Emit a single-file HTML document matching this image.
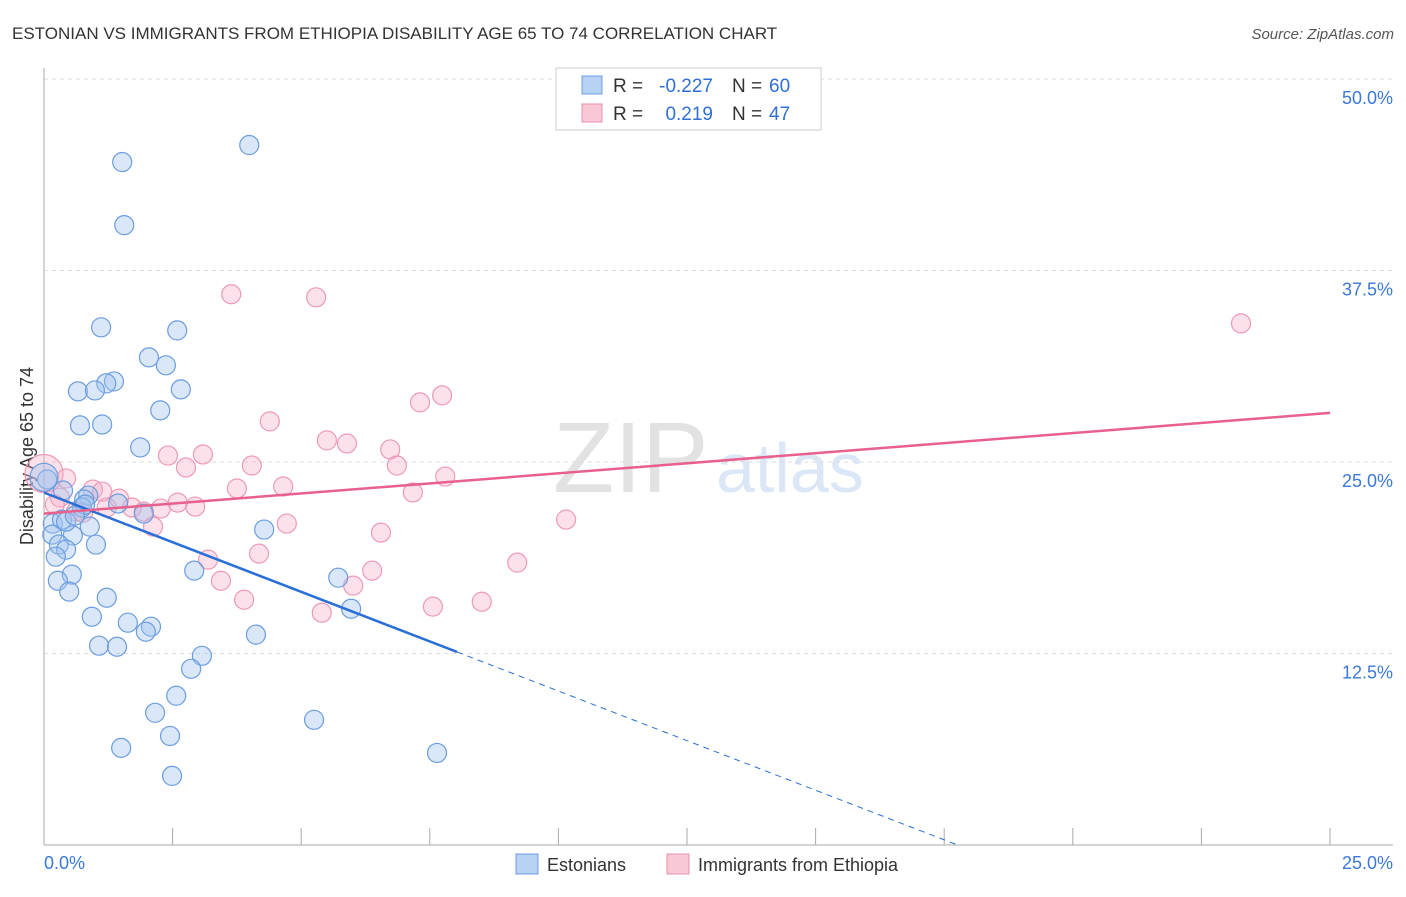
<!DOCTYPE html>
<html><head><meta charset="utf-8"><style>
body{margin:0;background:#fff;font-family:"Liberation Sans",sans-serif}
svg text{font-family:"Liberation Sans",sans-serif}
</style></head><body>
<svg id="c" width="1406" height="892">
<text x="12" y="39" font-size="17" fill="#333">ESTONIAN VS IMMIGRANTS FROM ETHIOPIA DISABILITY AGE 65 TO 74 CORRELATION CHART</text>
<text x="1394" y="39" font-size="15" fill="#555" text-anchor="end" font-style="italic">Source: ZipAtlas.com</text>
<text x="33" y="456" font-size="18" fill="#333" text-anchor="middle" transform="rotate(-90 33 456)">Disability Age 65 to 74</text>
<text x="553" y="492" font-size="100" fill="#e2e2e2" font-family="Liberation Serif">ZIP</text>
<text x="716" y="492" font-size="70" fill="#dbe6f6">atlas</text>
<g id="grid"></g><g id="pts"></g><g id="lines"></g>
<g>
<rect x="556" y="68" width="265" height="62" fill="#fff" stroke="#ccc"/>
<rect x="582" y="76" width="20" height="18" fill="#b8d2f4" stroke="#6a9be0"/>
<rect x="582" y="104" width="20" height="18" fill="#f9c8d6" stroke="#ea8fab"/>
<text x="613" y="92" font-size="19" fill="#333">R =</text>
<text x="713" y="92" font-size="19" fill="#2f6fd6" text-anchor="end">-0.227</text>
<text x="732" y="92" font-size="19" fill="#333">N =</text>
<text x="769" y="92" font-size="19" fill="#2f6fd6">60</text>
<text x="613" y="120" font-size="19" fill="#333">R =</text>
<text x="713" y="120" font-size="19" fill="#2f6fd6" text-anchor="end">0.219</text>
<text x="732" y="120" font-size="19" fill="#333">N =</text>
<text x="769" y="120" font-size="19" fill="#2f6fd6">47</text>
</g>
<g>
<rect x="516" y="854" width="22" height="20" fill="#b8d2f4" stroke="#6a9be0"/>
<text x="547" y="871" font-size="18" fill="#333">Estonians</text>
<rect x="667" y="854" width="22" height="20" fill="#f9c8d6" stroke="#ea8fab"/>
<text x="698" y="871" font-size="18" fill="#333">Immigrants from Ethiopia</text>
</g>
</svg>
<script>
const yTicks=[12.5,25,37.5,50];
const yTickLabels=["12.5%","25.0%","37.5%","50.0%"];
const xTicks=[0,2.5,5,7.5,10,12.5,15,17.5,20,22.5,25];
const blueX=[1.52,3.99,1.56,1.11,2.59,2.04,2.37,1.36,1.21,0.66,0.99,2.66,2.26,0.70,1.13,1.87,0.06,0.37,0.86,0.78,0.74,1.94,1.44,0.17,0.35,0.89,0.16,0.56,1.01,0.29,0.43,4.28,0.23,0.54,0.27,2.92,5.72,0.49,1.22,0.93,5.97,1.63,2.08,1.98,4.12,1.07,1.42,3.07,2.86,2.57,2.16,5.25,2.45,1.50,7.64,2.49,0.43,0.80,0.0,0.6];
const blueY=[44.58,45.69,40.46,33.79,33.59,31.83,31.31,30.26,30.13,29.61,29.67,29.74,28.37,27.39,27.45,25.95,23.86,23.14,22.81,22.55,22.03,21.63,22.29,20.98,21.24,20.78,20.26,20.20,19.61,19.61,19.28,20.59,18.82,17.65,17.25,17.91,17.45,16.54,16.14,14.90,15.42,14.51,14.25,13.92,13.73,13.01,12.94,12.35,11.50,9.74,8.63,8.17,7.12,6.34,6.01,4.51,21.11,22.22,24.0,21.5];
const pinkX=[0,0.43,0.31,0.95,1.13,0.62,0.76,1.22,1.46,1.71,1.94,2.12,2.27,2.41,2.60,2.76,2.94,3.09,3.19,3.44,3.64,3.75,3.89,4.04,4.18,4.65,4.72,4.39,5.29,5.40,5.50,5.89,6.01,6.38,6.55,6.73,6.86,7.17,7.31,7.56,7.74,7.80,8.51,9.20,10.15,23.27,0.21];
const pinkY=[24.25,23.92,22.68,23.20,23.07,21.76,21.70,22.03,22.61,22.03,21.76,20.78,21.96,25.42,22.35,24.64,22.09,25.49,18.63,17.25,35.95,23.27,16.01,24.77,19.02,23.40,20.98,27.65,35.75,15.16,26.41,26.21,16.93,17.91,20.39,25.82,24.77,23.01,28.89,15.56,29.35,24.05,15.88,18.43,21.24,34.05,22.22];
const blueTrend=[23.0,-1.295]; const blueSolidEnd=8.03;
const pinkTrend=[21.63,0.263];
const X=v=>44+v*51.44, Y=v=>845-v*15.32;
const NS="http://www.w3.org/2000/svg";
function mk(t,a,p){const e=document.createElementNS(NS,t);for(const k in a)e.setAttribute(k,a[k]);p.appendChild(e);return e;}
const g=document.getElementById('grid');
yTicks.forEach((t,i)=>{const l=mk('line',{x1:44,x2:1393,y1:Y(t),y2:Y(t),stroke:'#ddd','stroke-dasharray':'4,4'},g);


const tx=mk('text',{x:1393,y:Y(t)+25,'font-size':18,fill:'#3b78d8','text-anchor':'end'},g);tx.textContent=yTickLabels[i];

});
const ax=mk('line',{x1:44,x2:44,y1:68,y2:845,stroke:'#aaa'},g);


const bx=mk('line',{x1:44,x2:1393,y1:845,y2:845,stroke:'#aaa'},g);


xTicks.forEach(t=>{const l=mk('line',{x1:X(t),x2:X(t),y1:828,y2:845,stroke:'#aaa'},g);

});
const t0=mk('text',{x:44,y:869,'font-size':18,fill:'#3b78d8'},g);t0.textContent='0.0%';


const t1=mk('text',{x:1393,y:869,'font-size':18,fill:'#3b78d8','text-anchor':'end'},g);t1.textContent='25.0%';


const p=document.getElementById('pts');
pinkX.forEach((x,i)=>{const c=mk('circle',{cx:X(x),cy:Y(pinkY[i]),r:i==0?19:9.5,fill:'rgba(246,170,195,0.35)',stroke:'#ee9ab5','stroke-width':1.2},p);

});
blueX.forEach((x,i)=>{const c=mk('circle',{cx:X(x),cy:Y(blueY[i]),r:i==58?14:9.5,fill:'rgba(160,195,240,0.4)',stroke:'#6b9de0','stroke-width':1.2},p);

});
const L=document.getElementById('lines');
const bf=x=>blueTrend[0]+blueTrend[1]*x, pf=x=>pinkTrend[0]+pinkTrend[1]*x;
const b1=mk('line',{x1:X(0),y1:Y(bf(0)),x2:X(blueSolidEnd),y2:Y(bf(blueSolidEnd)),stroke:'#2a6fd6','stroke-width':2.5},L);


const xe=-blueTrend[0]/blueTrend[1];
const b2=mk('line',{x1:X(blueSolidEnd),y1:Y(bf(blueSolidEnd)),x2:X(xe),y2:Y(0),stroke:'#2a6fd6','stroke-width':1,'stroke-dasharray':'6,5'},L);


const pl=mk('line',{x1:X(0),y1:Y(pf(0)),x2:X(25),y2:Y(pf(25)),stroke:'#e8608c','stroke-width':2.5},L);


</script>
</body></html>
